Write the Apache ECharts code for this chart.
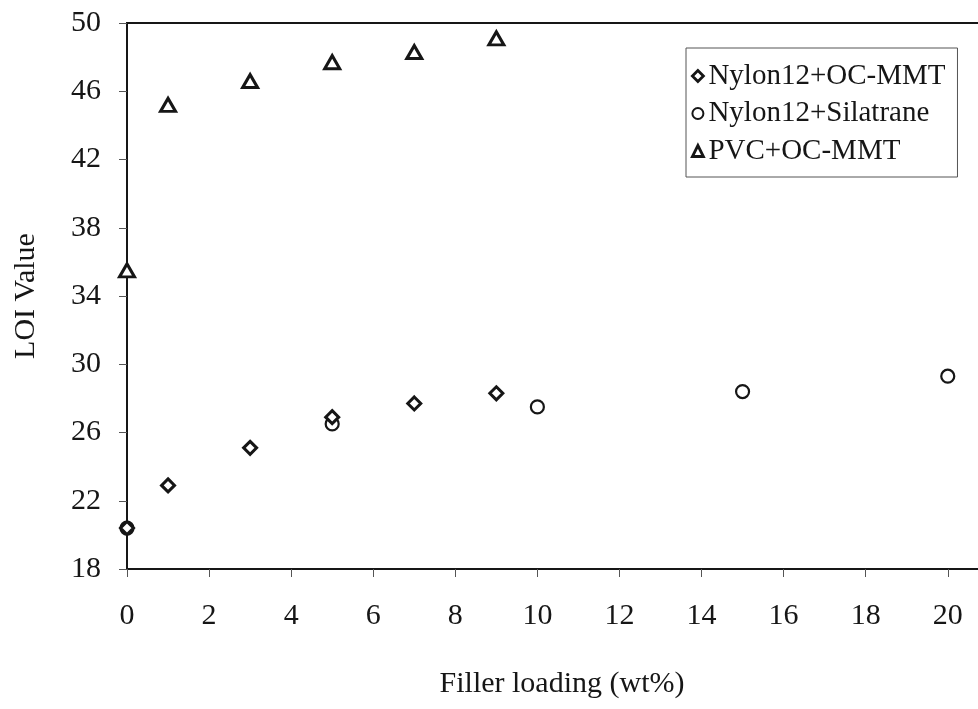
<!DOCTYPE html>
<html>
<head>
<meta charset="utf-8">
<title>LOI vs filler loading</title>
<script src="https://cdn.jsdelivr.net/npm/echarts@6/dist/echarts.min.js"></script>
<style>
  html, body { margin: 0; padding: 0; background: #fff; }
  #chart { width: 978px; height: 709px; }
</style>
</head>
<body>
<div id="chart"></div>
<script>
// LOI measurements against filler loading (wt%)
const seriesNames = ['Nylon12+OC-MMT', 'Nylon12+Silatrane', 'PVC+OC-MMT'];

const nylonOcLoading = [0, 1, 3, 5, 7, 9];
const nylonOcLoi     = [20.4, 22.9, 25.1, 26.9, 27.7, 28.3];

const nylonSilLoading = [0, 5, 10, 15, 20];
const nylonSilLoi     = [20.4, 26.5, 27.5, 28.4, 29.3];

const pvcOcLoading = [0, 1, 3, 5, 7, 9];
const pvcOcLoi     = [35.5, 45.2, 46.6, 47.7, 48.3, 49.1];

const xTicks = [0, 2, 4, 6, 8, 10, 12, 14, 16, 18, 20];
const yTicks = [18, 22, 26, 30, 34, 38, 42, 46, 50];

const FONT = '"Liberation Serif", "Times New Roman", serif';
const INK = '#161616';

function pairs(xs, ys) {
  return xs.map((x, i) => [x, ys[i]]);
}

const chart = echarts.init(document.getElementById('chart'), null, { renderer: 'canvas' });

const hollow = (bw) => ({ color: '#ffffff', borderColor: INK, borderWidth: bw, opacity: 1 });

chart.setOption({
  animation: false,
  backgroundColor: '#ffffff',
  grid: {
    left: 127,
    top: 23,
    width: 870,
    height: 546,
    containLabel: false,
    outerBoundsMode: 'none',
    show: true,
    borderColor: INK,
    borderWidth: 2,
    backgroundColor: 'transparent'
  },
  legend: {
    orient: 'vertical',
    left: 686,
    top: 48,
    padding: [13, 12, 11, 5],
    itemGap: 7.5,
    itemWidth: 11,
    itemHeight: 11,
    borderColor: '#555',
    borderWidth: 1,
    backgroundColor: '#fff',
    textStyle: { fontFamily: FONT, fontSize: 29, lineHeight: 30, color: INK },
    data: [
      { name: seriesNames[0], icon: 'diamond', itemStyle: hollow(2.8) },
      { name: seriesNames[1], icon: 'circle', itemStyle: hollow(2) },
      { name: seriesNames[2], icon: 'triangle', itemStyle: hollow(2.8) }
    ]
  },
  xAxis: {
    type: 'value',
    min: 0,
    max: 21.2,
    name: 'Filler loading (wt%)',
    nameLocation: 'middle',
    nameGap: 100,
    nameTextStyle: { fontFamily: FONT, fontSize: 30, color: INK },
    splitLine: { show: false },
    axisLine: { show: true, onZero: false, lineStyle: { color: INK, width: 2 } },
    axisTick: { show: true, inside: false, length: 8, customValues: xTicks, lineStyle: { color: '#555', width: 1 } },
    axisLabel: { customValues: xTicks, margin: 32, fontFamily: FONT, fontSize: 30, color: INK }
  },
  yAxis: {
    type: 'value',
    min: 18,
    max: 50,
    name: 'LOI Value',
    nameLocation: 'middle',
    nameGap: 86,
    nameTextStyle: { fontFamily: FONT, fontSize: 30, color: INK },
    splitLine: { show: false },
    axisLine: { show: true, onZero: false, lineStyle: { color: INK, width: 2 } },
    axisTick: { show: true, inside: false, length: 8, customValues: yTicks, lineStyle: { color: '#555', width: 1 } },
    axisLabel: { customValues: yTicks, margin: 26, fontFamily: FONT, fontSize: 30, color: INK }
  },
  series: [
    {
      name: seriesNames[1],
      type: 'scatter',
      symbol: 'circle',
      symbolSize: 13,
      itemStyle: hollow(2.2),
      data: pairs(nylonSilLoading, nylonSilLoi)
    },
    {
      name: seriesNames[0],
      type: 'scatter',
      symbol: 'diamond',
      symbolSize: 13,
      itemStyle: hollow(3),
      data: pairs(nylonOcLoading, nylonOcLoi)
    },
    {
      name: seriesNames[2],
      type: 'scatter',
      symbol: 'triangle',
      symbolSize: [15, 13],
      itemStyle: hollow(3),
      data: pairs(pvcOcLoading, pvcOcLoi)
    }
  ]
});
</script>
</body>
</html>
